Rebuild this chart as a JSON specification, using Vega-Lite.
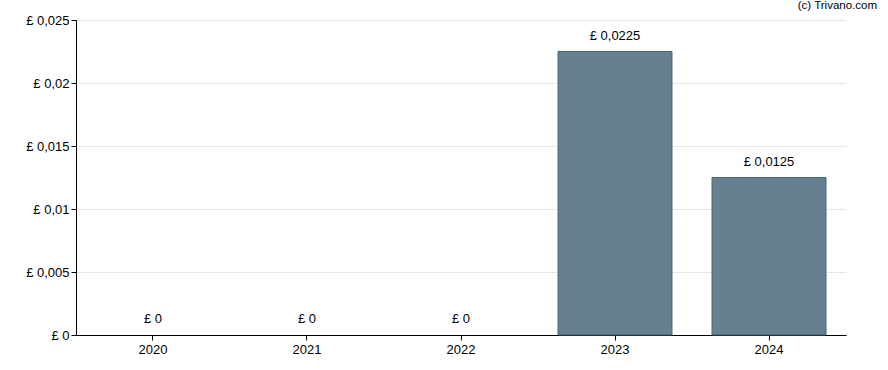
{
  "$schema": "https://vega.github.io/schema/vega-lite/v6.json",
  "autosize": "none",
  "width": 770,
  "height": 315,
  "padding": {"left": 76, "top": 20, "right": 42, "bottom": 35},
  "background": "white",
  "config": {"view": {"stroke": null}, "font": "Liberation Sans"},
  "title": {"text": "(c) Trivano.com", "anchor": "end", "frame": "group", "fontSize": 11.5, "fontWeight": "normal", "color": "#000000", "dx": 31, "offset": 3, "baseline": "top", "font": "Liberation Sans"},
  "data": {"values": [
    {"year": "2020", "value": 0},
    {"year": "2021", "value": 0},
    {"year": "2022", "value": 0},
    {"year": "2023", "value": 0.0225},
    {"year": "2024", "value": 0.0125}
  ]},
  "transform": [{"calculate": "'£ ' + replace('' + datum.value, '.', ',')", "as": "label"}],
  "encoding": {
    "x": {"field": "year", "type": "nominal", "sort": null,
      "scale": {"paddingInner": 0.26, "paddingOuter": 0.13},
      "axis": {"title": null, "labelAngle": 0, "domainColor": "#000000", "tickColor": "#000000", "tickSize": 5, "labelFontSize": 13, "labelColor": "#000000", "labelPadding": 3, "grid": false}}
  },
  "layer": [
    {
      "mark": {"type": "bar", "fill": "#65818f", "stroke": "#47637a", "strokeWidth": 1},
      "encoding": {
        "y": {"field": "value", "type": "quantitative",
          "scale": {"domain": [0, 0.025], "nice": false},
          "axis": {"title": null, "values": [0, 0.005, 0.01, 0.015, 0.02, 0.025], "labelExpr": "'£ ' + replace('' + datum.value, '.', ',')", "domainColor": "#000000", "tickColor": "#000000", "tickSize": 5, "labelFontSize": 13, "labelColor": "#000000", "labelPadding": 2, "gridColor": "#e6e6e6"}},
        "strokeOpacity": {"condition": {"test": "datum.value == 0", "value": 0}, "value": 1}
      }
    },
    {
      "mark": {"type": "text", "baseline": "alphabetic", "dy": -12, "fontSize": 13, "color": "#000000"},
      "encoding": {
        "y": {"field": "value", "type": "quantitative"},
        "text": {"field": "label"}
      }
    }
  ]
}
